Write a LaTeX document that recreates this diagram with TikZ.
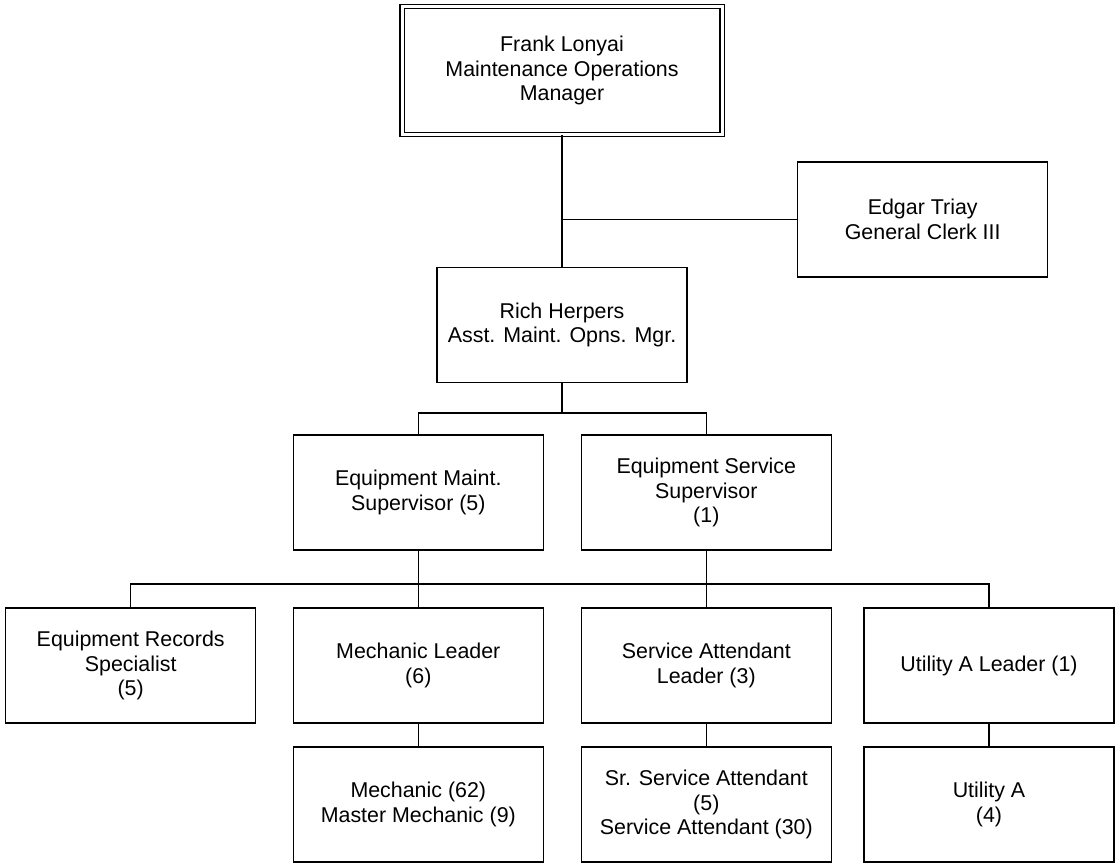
\documentclass[tikz,border=0pt]{standalone}
\usepackage{fontspec}
\setmainfont{Liberation Sans}
\begin{document}
\begin{tikzpicture}[x=1pt,y=-1pt,
  box/.style={draw, line width=1.5pt, minimum width=250pt, minimum height=115pt,
    inner sep=0pt, align=center, font=\fontsize{21.4}{24.5}\selectfont},
  topbox/.style={box, double, double distance=3pt, line width=1.2pt,
    minimum width=320pt, minimum height=128pt},
  conn/.style={line width=1.5pt}]
\useasboundingbox (0,0) rectangle (1115,862);
\node[topbox] (top) at (562,70.5) {Frank Lonyai\\Maintenance Operations\\Manager};
\node[box] (edgar) at (922.7,219.5) {Edgar Triay\\General Clerk III};
\node[box] (rich) at (562,325) {Rich Herpers\\Asst. Maint. Opns. Mgr.};
\node[box] (ems) at (418.3,492.5) {Equipment Maint.\\Supervisor (5)};
\node[box] (ess) at (706.3,492.5) {Equipment Service\\Supervisor\\(1)};
\node[box] (rec) at (130.7,665.5) {Equipment Records\\Specialist\\(5)};
\node[box] (ml) at (418.3,665.5) {Mechanic Leader\\(6)};
\node[box] (sal) at (706.3,665.5) {Service Attendant\\Leader (3)};
\node[box] (ual) at (989,665.5) {Utility A Leader (1)};
\node[box] (mech) at (418.3,804.5) {Mechanic (62)\\Master Mechanic (9)};
\node[box] (sat) at (706.3,804.5) {Sr. Service Attendant\\(5)\\Service Attendant (30)};
\node[box] (ua) at (989,804.5) {Utility A\\(4)};
\coordinate (b1) at (562,413);
\coordinate (b2) at (562,584);
\draw[conn] (top.south) -- (rich.north);
\draw[conn] (rich.north |- edgar.west) -- (edgar.west);
\draw[conn] (rich.south) -- (b1);
\draw[conn] (ems.north) -- (ems.north |- b1) -- (ess.north |- b1) -- (ess.north);
\draw[conn] (rec.north) -- (rec.north |- b2) -- (ual.north |- b2) -- (ual.north);
\draw[conn] (ems.south) -- (ml.north);
\draw[conn] (ess.south) -- (sal.north);
\draw[conn] (ml.south) -- (mech.north);
\draw[conn] (sal.south) -- (sat.north);
\draw[conn] (ual.south) -- (ua.north);
\end{tikzpicture}
\end{document}
